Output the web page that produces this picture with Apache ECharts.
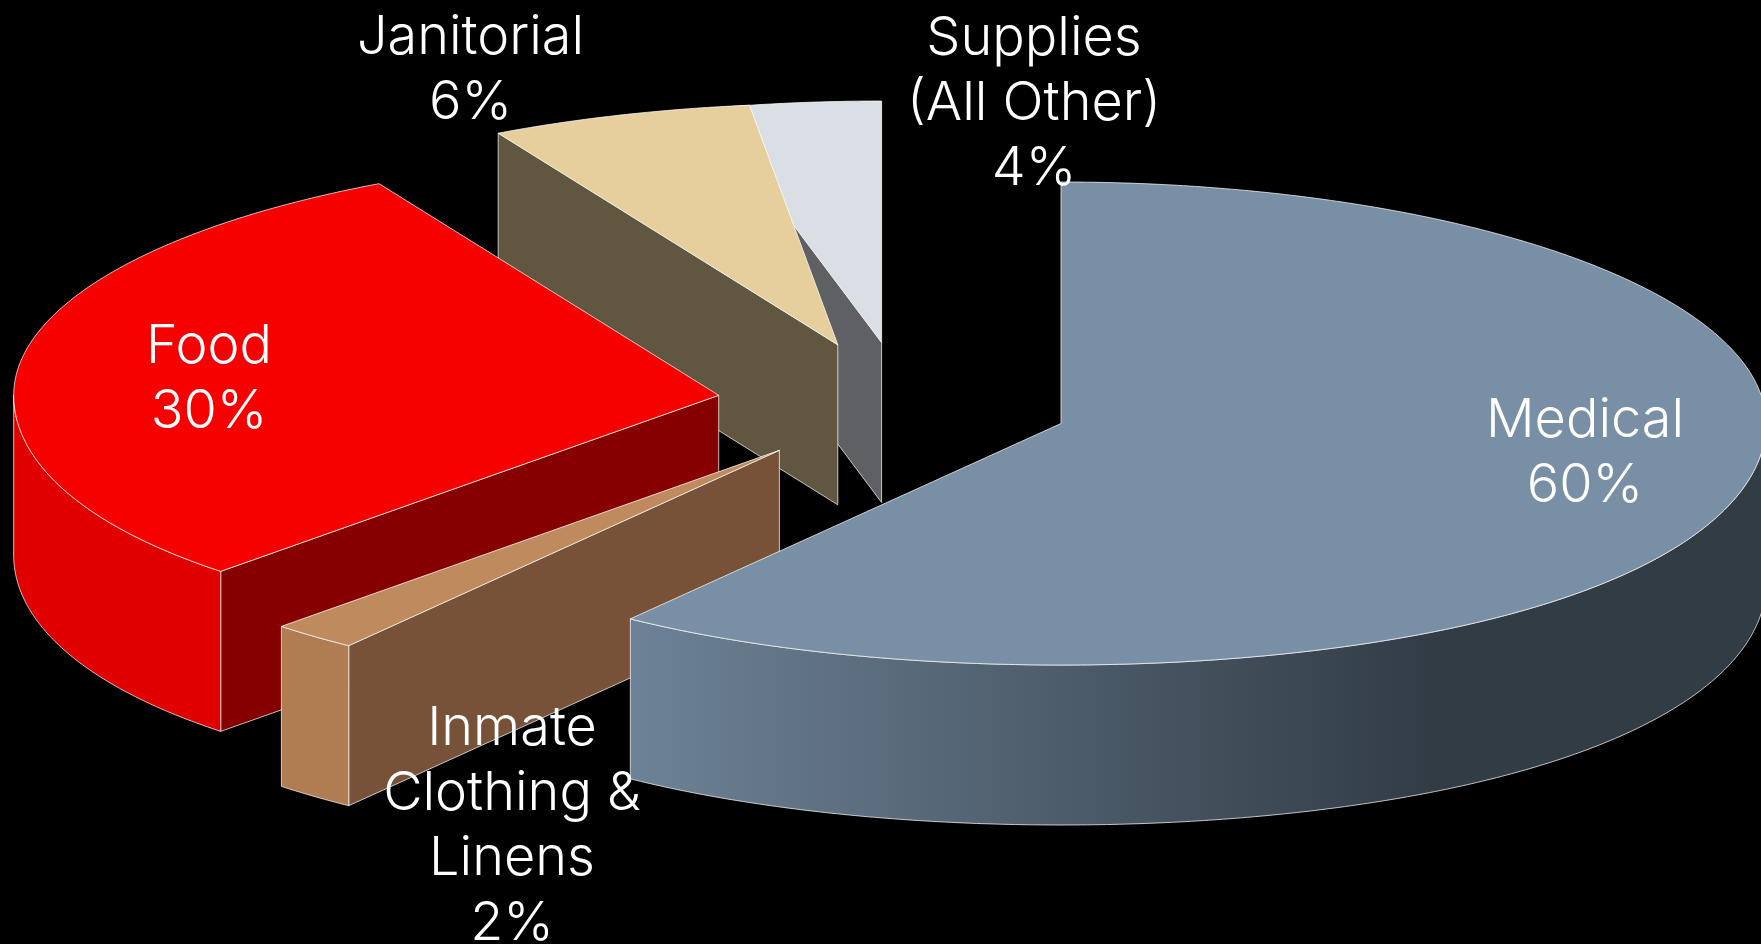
<!DOCTYPE html>
<html>
<head>
<meta charset="utf-8">
<title>Spending by category</title>
<style>html,body{margin:0;height:100%;background:#000}#chart{width:1761px;height:944px}</style>
<script src="https://cdn.jsdelivr.net/npm/echarts@6/dist/echarts.min.js"></script>
</head>
<body>
<div id="chart"></div>
<script>
const categories = ['Medical', 'Inmate\nClothing &\nLinens', 'Food', 'Janitorial', 'Supplies\n(All Other)'];
const shares = [60, 2, 30, 6, 4];

// Tilted-disc geometry, in pixels. FRONT_FLARE widens the near half slightly for perspective.
const RX = 705, RY = 241.5, DEPTH = 160, FRONT_FLARE = 0.06;
const apexes = [[1061, 423.5], [779.4, 450.3], [718.7, 395.3], [837.8, 344.8], [881.6, 342.5]];
const labelCentres = [[1585, 453], [512, 826], [209, 379], [470.5, 70], [1034, 104]];
// Back-to-front painting rank of each slice.
const paintRank = [4, 3, 2, 1, 0];

const topColors = ['#788fa5', '#bf8a5e', '#f60000', '#e6cf9c', '#d9dfe5'];
const rimColors = [
  { type: 'linear', global: true, x: 632, y: 0, x2: 1430, y2: 0,
    colorStops: [{ offset: 0, color: '#6d8296' }, { offset: 0.5, color: '#4f5f6e' }, { offset: 1, color: '#323c45' }] },
  '#b07d53', '#e00000', '#61563f', '#5e6064'
];
const wallColors = ['#323c45', '#775238', '#870000', '#61563f', '#5e6064'];
const EDGE = 'rgba(255,255,255,0.72)';

// The shares add up to 102, so slices run clockwise from twelve o'clock
// and the last one is held back far enough to close the circle.
function sweepOf(share) { return share * 3.6; }
function startOf(index) {
  let cum = 0;
  for (let i = 0; i < index; i++) cum += sweepOf(shares[i]);
  return Math.min(cum, 360 - sweepOf(shares[index]));
}
function rimPoint(apex, deg, drop) {
  const a = deg * Math.PI / 180;
  const near = Math.max(0, -Math.cos(a));
  const flare = 1 + FRONT_FLARE * near * near;
  return [apex[0] + RX * flare * Math.sin(a), apex[1] - RY * Math.cos(a) + (drop || 0)];
}
function arc(apex, from, to, drop) {
  const pts = [];
  const n = Math.max(2, Math.ceil(Math.abs(to - from) * 2));
  for (let i = 0; i <= n; i++) pts.push(rimPoint(apex, from + (to - from) * i / n, drop));
  return pts;
}
function face(points, fill, z2) {
  return { type: 'polygon', z2, shape: { points }, style: { fill, stroke: EDGE, lineWidth: 1 } };
}

function renderSlice(params, api) {
  const i = params.dataIndex;
  const apex = apexes[i];
  const start = startOf(i);
  const end = start + sweepOf(api.value(0));
  const base = paintRank[i] * 10;
  const children = [];
  const foot = [apex[0], apex[1] + DEPTH];

  if (start > 180 && start < 360) {
    const p = rimPoint(apex, start);
    children.push(face([apex, p, [p[0], p[1] + DEPTH], foot], wallColors[i], base));
  }
  if (end > 0 && end < 180) {
    const p = rimPoint(apex, end);
    children.push(face([apex, p, [p[0], p[1] + DEPTH], foot], wallColors[i], base));
  }
  const from = Math.max(start, 90), to = Math.min(end, 270);
  if (to > from) {
    children.push(face(arc(apex, from, to).concat(arc(apex, to, from, DEPTH)), rimColors[i], base + 1));
  }
  children.push(face([apex].concat(arc(apex, start, end)), topColors[i], base + 2));
  return { type: 'group', children };
}

function renderLabel(params, api) {
  const i = params.dataIndex;
  return {
    type: 'text',
    x: labelCentres[i][0],
    y: labelCentres[i][1],
    style: {
      text: categories[i] + '\n' + api.value(0) + '%',
      fill: '#ffffff',
      font: '300 54px Inter, Lato, sans-serif',
      lineHeight: 65,
      align: 'center',
      verticalAlign: 'middle'
    }
  };
}

const chart = echarts.init(document.getElementById('chart'));
chart.setOption({
  backgroundColor: '#000000',
  animation: false,
  series: [
    { type: 'custom', coordinateSystem: 'none', silent: true, z: 1, clip: false, renderItem: renderSlice, data: shares },
    { type: 'custom', coordinateSystem: 'none', silent: true, z: 5, clip: false, renderItem: renderLabel, data: shares }
  ]
});
</script>
</body>
</html>
